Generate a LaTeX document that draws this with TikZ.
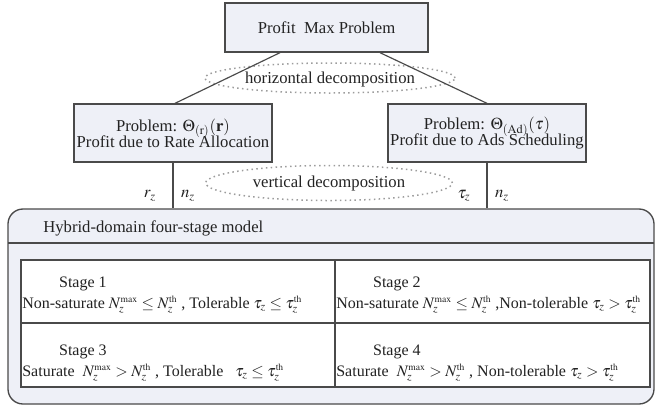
\documentclass[tikz,border=0pt]{standalone}
\usepackage{amsmath}
\usepackage{mathptmx}
\usepackage{fontspec}
\setmainfont{Liberation Serif}
\usetikzlibrary{shapes.geometric,calc}

\definecolor{boxfill}{HTML}{EEF0F7}
\definecolor{linegray}{HTML}{4A4A4A}
\definecolor{dotgray}{HTML}{9C9C9C}
\definecolor{inkgray}{HTML}{222222}

\newcommand{\supx}[1]{^{\scriptscriptstyle\mathrm{#1}}}

\begin{document}
\begin{tikzpicture}[x=0.6pt,y=-0.6pt,
  probbox/.style={draw=linegray,line width=0.8pt,fill=boxfill,inner sep=0pt,align=center,text=inkgray,font=\fontsize{10}{10}\selectfont},
  decomp/.style={ellipse,draw=dotgray,dotted,line width=0.9pt,inner sep=0pt},
  link/.style={draw=linegray,line width=0.7pt},
  plain/.style={inner sep=0pt,text=inkgray,font=\fontsize{10}{12}\selectfont},
  stagetext/.style={anchor=west,align=left,inner sep=0pt,text=inkgray,font=\fontsize{9.6}{12.6}\selectfont}]
\useasboundingbox (0,0) rectangle (655,409);

\node[probbox,minimum width=121.8pt,minimum height=29.4pt] (maxp) at (326.5,27.5) {Profit~ Max Problem};
\node[probbox,minimum width=118.8pt,minimum height=34.8pt] (ratep) at (173,133) {Problem: $\Theta_{(\mathrm{r})}(\mathbf{r})$\\[-2.5pt]Profit due to Rate Allocation};
\node[probbox,minimum width=118.8pt,minimum height=34.8pt] (adsp) at (487,133) {Problem: $\Theta_{(\mathrm{Ad})}(\boldsymbol{\tau})$\\[-2.5pt]Profit due to Ads Scheduling};

\node[decomp,minimum width=150pt,minimum height=18pt] (hdec) at (330,78) {};
\node[plain] (hdectext) at (330,79) {horizontal decomposition};
\node[decomp,minimum width=148pt,minimum height=21pt] (vdec) at (329,183) {};
\node[plain] (vdectext) at (329,183) {vertical decomposition};

\draw[link] ($(maxp.south)+(-46.5,0)$) -- ($(ratep.north)+(2,0)$);
\draw[link] ($(maxp.south)+(53.5,0)$) -- (adsp.north);

\node[draw=linegray,line width=0.8pt,fill=boxfill,rounded corners=9pt,minimum width=387.6pt,minimum height=117pt,inner sep=0pt] (model) at (331,306.5) {};
\draw[link] (ratep.south) -- (ratep.south |- model.north);
\draw[link] (adsp.south) -- (adsp.south |- model.north);

\node[plain] (lr) at (150,196) {$r_z$};
\node[plain] (ln) at (188,196) {$n_z$};
\node[plain] (rt) at (464,196) {$\tau_z$};
\node[plain] (rn) at (502,196) {$n_z$};

\node[plain,anchor=west] (modeltitle) at (43,228) {Hybrid-domain four-stage model};
\draw[link] (8,243) -- (654,243);

\node[draw=linegray,line width=0.8pt,fill=white,minimum width=377.4pt,minimum height=76.2pt,inner sep=0pt] (grid) at (335.5,323.5) {};
\draw[link] (335,260) -- (335,387);
\draw[link] (21,323) -- (650,323);

\node[stagetext] (s1) at (22,295) {\hspace*{2.3em}Stage 1\\Non-saturate $N_z\supx{max}\le N_z\supx{th}$ , Tolerable $\tau_z\le\tau_z\supx{th}$};
\node[stagetext] (s2) at (336,295) {\hspace*{2.3em}Stage 2\\Non-saturate $N_z\supx{max}\le N_z\supx{th}$ ,Non-tolerable $\tau_z>\tau_z\supx{th}$};
\node[stagetext] (s3) at (22,363) {\hspace*{2.3em}Stage 3\\Saturate~ $N_z\supx{max}>N_z\supx{th}$ , Tolerable~~ $\tau_z\le\tau_z\supx{th}$};
\node[stagetext] (s4) at (336,363) {\hspace*{2.3em}Stage 4\\Saturate~ $N_z\supx{max}>N_z\supx{th}$ , Non-tolerable $\tau_z>\tau_z\supx{th}$};
\end{tikzpicture}
\end{document}
